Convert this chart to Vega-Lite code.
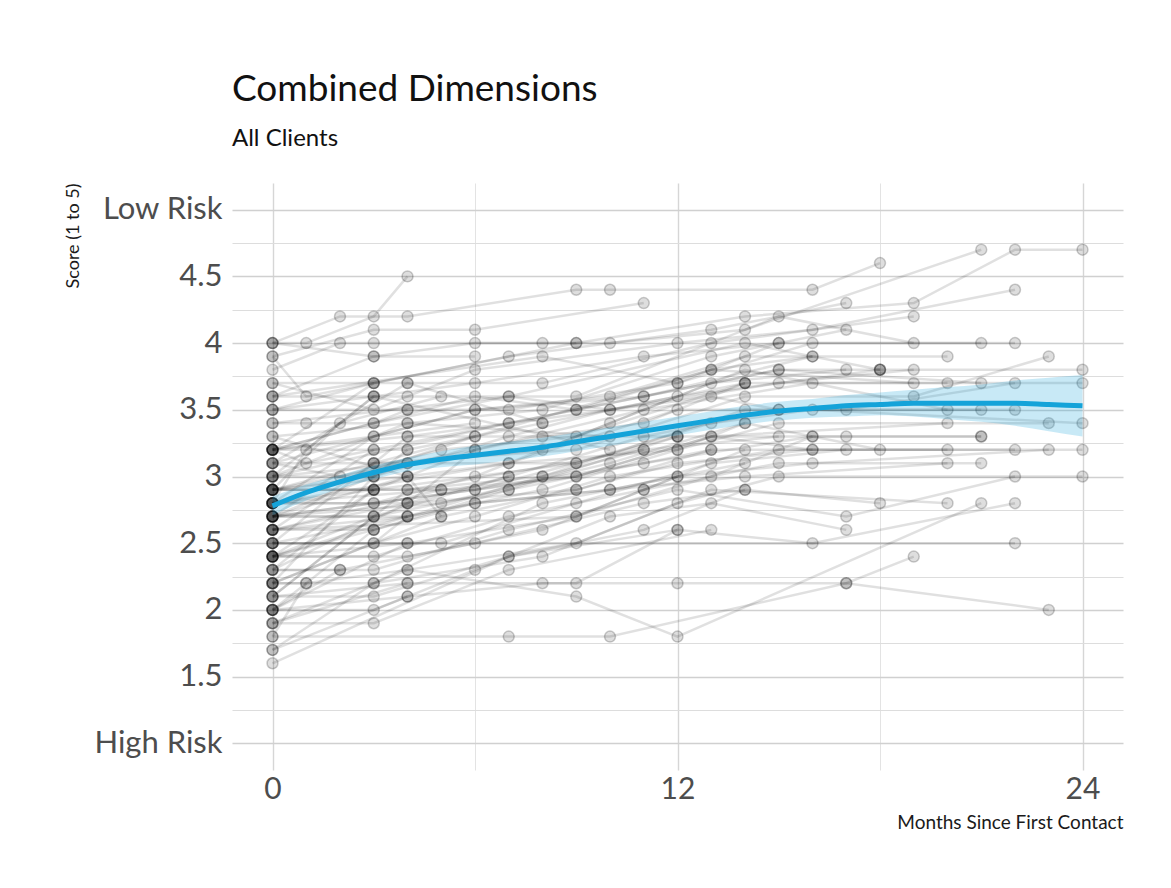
{
  "$schema": "https://vega.github.io/schema/vega-lite/v6.json",
  "width": 891,
  "height": 587,
  "autosize": {"type": "none"},
  "padding": {"left": 232, "top": 183, "right": 48, "bottom": 118},
  "background": "#ffffff",
  "config": {"view": {"stroke": null}, "font": "Lato"},
  "title": {
    "text": "Combined Dimensions",
    "subtitle": "All Clients",
    "anchor": "start",
    "frame": "group",
    "font": "Lato",
    "fontSize": 37,
    "fontWeight": "normal",
    "color": "#111111",
    "subtitleFont": "Lato",
    "subtitleFontSize": 24,
    "subtitleColor": "#111111",
    "subtitlePadding": 18,
    "offset": 31
  },
  "datasets": {
    "pts": [
      {"id":1,"m":0,"s":4.0},{"id":1,"m":1,"s":4.0},{"id":1,"m":3,"s":4.2},{"id":1,"m":4,"s":4.5},
      {"id":2,"m":0,"s":4.0},{"id":2,"m":2,"s":4.2},{"id":2,"m":4,"s":4.2},{"id":2,"m":9,"s":4.4},{"id":2,"m":10,"s":4.4},{"id":2,"m":16,"s":4.4},{"id":2,"m":18,"s":4.6},
      {"id":3,"m":0,"s":4.0},{"id":3,"m":3,"s":3.9},{"id":3,"m":6,"s":4.0},{"id":3,"m":9,"s":4.0},{"id":3,"m":14,"s":4.2},{"id":3,"m":19,"s":4.3},{"id":3,"m":22,"s":4.7},{"id":3,"m":24,"s":4.7},
      {"id":4,"m":0,"s":3.9},{"id":4,"m":3,"s":4.1},{"id":4,"m":6,"s":4.1},{"id":4,"m":11,"s":4.3},
      {"id":5,"m":0,"s":3.9},{"id":5,"m":1,"s":3.6},{"id":5,"m":3,"s":3.7},{"id":5,"m":7,"s":3.9},{"id":5,"m":13,"s":4.1},{"id":5,"m":17,"s":4.3},
      {"id":6,"m":0,"s":3.8},{"id":6,"m":2,"s":4.0},{"id":6,"m":3,"s":4.0},{"id":6,"m":8,"s":4.0},{"id":6,"m":10,"s":4.0},{"id":6,"m":14,"s":4.1},{"id":6,"m":21,"s":4.7},
      {"id":7,"m":0,"s":3.7},{"id":7,"m":3,"s":3.5},{"id":7,"m":6,"s":3.8},{"id":7,"m":12,"s":4.0},{"id":7,"m":16,"s":4.1},{"id":7,"m":22,"s":4.4},
      {"id":8,"m":0,"s":3.7},{"id":8,"m":4,"s":3.7},{"id":8,"m":8,"s":3.7},{"id":8,"m":13,"s":4.0},{"id":8,"m":19,"s":4.2},
      {"id":9,"m":0,"s":3.6},{"id":9,"m":4,"s":3.6},{"id":9,"m":9,"s":3.6},{"id":9,"m":15,"s":4.2},{"id":9,"m":19,"s":4.0},
      {"id":10,"m":0,"s":3.5},{"id":10,"m":3,"s":3.6},{"id":10,"m":6,"s":3.7},{"id":10,"m":11,"s":3.9},{"id":10,"m":15,"s":4.0},{"id":10,"m":21,"s":4.0},
      {"id":11,"m":0,"s":3.5},{"id":11,"m":4,"s":3.5},{"id":11,"m":7,"s":3.5},{"id":11,"m":12,"s":3.7},{"id":11,"m":16,"s":4.0},{"id":11,"m":22,"s":4.0},
      {"id":12,"m":0,"s":3.4},{"id":12,"m":1,"s":3.4},{"id":12,"m":3,"s":3.4},{"id":12,"m":7,"s":3.6},{"id":12,"m":14,"s":4.0},{"id":12,"m":18,"s":3.8},
      {"id":13,"m":0,"s":3.3},{"id":13,"m":4,"s":3.4},{"id":13,"m":8,"s":3.5},{"id":13,"m":13,"s":3.9},{"id":13,"m":17,"s":4.1},
      {"id":14,"m":0,"s":3.2},{"id":14,"m":3,"s":3.3},{"id":14,"m":6,"s":3.5},{"id":14,"m":10,"s":3.6},{"id":14,"m":14,"s":3.9},{"id":14,"m":20,"s":3.9},
      {"id":15,"m":0,"s":3.2},{"id":15,"m":4,"s":3.3},{"id":15,"m":7,"s":3.4},{"id":15,"m":11,"s":3.6},{"id":15,"m":16,"s":3.9},
      {"id":16,"m":0,"s":3.2},{"id":16,"m":1,"s":3.1},{"id":16,"m":3,"s":3.2},{"id":16,"m":9,"s":3.5},{"id":16,"m":15,"s":3.8},{"id":16,"m":21,"s":3.7},
      {"id":17,"m":0,"s":3.2},{"id":17,"m":4,"s":3.2},{"id":17,"m":8,"s":3.4},{"id":17,"m":12,"s":3.6},{"id":17,"m":18,"s":3.8},{"id":17,"m":24,"s":3.8},
      {"id":18,"m":0,"s":3.1},{"id":18,"m":3,"s":3.1},{"id":18,"m":6,"s":3.3},{"id":18,"m":13,"s":3.8},{"id":18,"m":19,"s":3.7},
      {"id":19,"m":0,"s":3.1},{"id":19,"m":2,"s":3.0},{"id":19,"m":5,"s":3.2},{"id":19,"m":9,"s":3.3},{"id":19,"m":14,"s":3.7},{"id":19,"m":20,"s":3.7},
      {"id":20,"m":0,"s":3.0},{"id":20,"m":3,"s":3.0},{"id":20,"m":7,"s":3.3},{"id":20,"m":10,"s":3.5},{"id":20,"m":15,"s":3.7},{"id":20,"m":19,"s":3.8},
      {"id":21,"m":0,"s":3.0},{"id":21,"m":4,"s":3.1},{"id":21,"m":8,"s":3.2},{"id":21,"m":13,"s":3.7},{"id":21,"m":17,"s":3.8},
      {"id":22,"m":0,"s":2.9},{"id":22,"m":3,"s":2.9},{"id":22,"m":6,"s":3.2},{"id":22,"m":11,"s":3.5},{"id":22,"m":16,"s":3.7},{"id":22,"m":24,"s":3.7},
      {"id":23,"m":0,"s":2.9},{"id":23,"m":4,"s":3.0},{"id":23,"m":7,"s":3.1},{"id":23,"m":12,"s":3.5},{"id":23,"m":17,"s":3.5},{"id":23,"m":22,"s":3.7},
      {"id":24,"m":0,"s":2.9},{"id":24,"m":3,"s":3.1},{"id":24,"m":9,"s":3.2},{"id":24,"m":14,"s":3.6},{"id":24,"m":19,"s":3.6},{"id":24,"m":23,"s":3.9},
      {"id":25,"m":0,"s":2.9},{"id":25,"m":4,"s":2.9},{"id":25,"m":8,"s":3.0},{"id":25,"m":14,"s":3.5},{"id":25,"m":21,"s":3.5},
      {"id":26,"m":0,"s":2.8},{"id":26,"m":3,"s":2.8},{"id":26,"m":6,"s":3.0},{"id":26,"m":10,"s":3.4},{"id":26,"m":14,"s":3.8},{"id":26,"m":20,"s":3.5},
      {"id":27,"m":0,"s":2.8},{"id":27,"m":4,"s":2.8},{"id":27,"m":7,"s":3.0},{"id":27,"m":11,"s":3.3},{"id":27,"m":15,"s":3.5},{"id":27,"m":22,"s":3.5},
      {"id":28,"m":0,"s":2.8},{"id":28,"m":3,"s":2.9},{"id":28,"m":9,"s":3.1},{"id":28,"m":13,"s":3.4},{"id":28,"m":16,"s":3.5},{"id":28,"m":24,"s":3.4},
      {"id":29,"m":0,"s":2.8},{"id":29,"m":5,"s":2.9},{"id":29,"m":9,"s":3.0},{"id":29,"m":13,"s":3.3},{"id":29,"m":20,"s":3.4},
      {"id":30,"m":0,"s":2.7},{"id":30,"m":3,"s":2.7},{"id":30,"m":7,"s":2.9},{"id":30,"m":12,"s":3.3},{"id":30,"m":17,"s":3.3},{"id":30,"m":21,"s":3.3},
      {"id":31,"m":0,"s":2.7},{"id":31,"m":4,"s":2.7},{"id":31,"m":8,"s":2.9},{"id":31,"m":12,"s":3.2},{"id":31,"m":15,"s":3.4},{"id":31,"m":23,"s":3.4},
      {"id":32,"m":0,"s":2.7},{"id":32,"m":3,"s":2.8},{"id":32,"m":6,"s":2.9},{"id":32,"m":11,"s":3.1},{"id":32,"m":16,"s":3.3},{"id":32,"m":21,"s":3.3},
      {"id":33,"m":0,"s":2.7},{"id":33,"m":5,"s":2.8},{"id":33,"m":10,"s":3.1},{"id":33,"m":14,"s":3.4},{"id":33,"m":18,"s":3.2},
      {"id":34,"m":0,"s":2.6},{"id":34,"m":3,"s":2.6},{"id":34,"m":7,"s":2.9},{"id":34,"m":13,"s":3.2},{"id":34,"m":20,"s":3.2},
      {"id":35,"m":0,"s":2.6},{"id":35,"m":4,"s":2.8},{"id":35,"m":9,"s":2.9},{"id":35,"m":12,"s":3.1},{"id":35,"m":16,"s":3.2},{"id":35,"m":22,"s":3.2},
      {"id":36,"m":0,"s":2.5},{"id":36,"m":3,"s":2.5},{"id":36,"m":6,"s":2.7},{"id":36,"m":10,"s":3.0},{"id":36,"m":15,"s":3.2},{"id":36,"m":24,"s":3.2},
      {"id":37,"m":0,"s":2.5},{"id":37,"m":5,"s":2.5},{"id":37,"m":9,"s":2.8},{"id":37,"m":13,"s":3.1},{"id":37,"m":17,"s":3.2},
      {"id":38,"m":0,"s":2.4},{"id":38,"m":3,"s":2.4},{"id":38,"m":7,"s":2.7},{"id":38,"m":11,"s":2.9},{"id":38,"m":15,"s":3.1},{"id":38,"m":21,"s":3.1},
      {"id":39,"m":0,"s":2.4},{"id":39,"m":4,"s":2.4},{"id":39,"m":8,"s":2.6},{"id":39,"m":12,"s":3.0},{"id":39,"m":16,"s":3.1},{"id":39,"m":23,"s":3.2},
      {"id":40,"m":0,"s":2.4},{"id":40,"m":3,"s":2.6},{"id":40,"m":6,"s":2.8},{"id":40,"m":10,"s":2.9},{"id":40,"m":14,"s":3.0},{"id":40,"m":20,"s":3.1},
      {"id":41,"m":0,"s":2.4},{"id":41,"m":4,"s":2.5},{"id":41,"m":9,"s":2.7},{"id":41,"m":13,"s":3.0},{"id":41,"m":16,"s":3.3},
      {"id":42,"m":0,"s":2.3},{"id":42,"m":3,"s":2.3},{"id":42,"m":7,"s":2.6},{"id":42,"m":12,"s":2.9},{"id":42,"m":17,"s":2.7},{"id":42,"m":22,"s":3.0},
      {"id":43,"m":0,"s":2.3},{"id":43,"m":2,"s":2.3},{"id":43,"m":6,"s":2.5},{"id":43,"m":11,"s":2.8},{"id":43,"m":14,"s":2.9},{"id":43,"m":18,"s":2.8},
      {"id":44,"m":0,"s":2.2},{"id":44,"m":3,"s":2.2},{"id":44,"m":8,"s":2.4},{"id":44,"m":12,"s":2.8},{"id":44,"m":15,"s":3.0},{"id":44,"m":24,"s":3.0},
      {"id":45,"m":0,"s":2.2},{"id":45,"m":1,"s":2.2},{"id":45,"m":4,"s":2.3},{"id":45,"m":9,"s":2.5},{"id":45,"m":13,"s":2.9},{"id":45,"m":20,"s":2.8},
      {"id":46,"m":0,"s":2.1},{"id":46,"m":3,"s":2.1},{"id":46,"m":7,"s":2.4},{"id":46,"m":11,"s":2.6},{"id":46,"m":14,"s":2.9},
      {"id":47,"m":0,"s":2.1},{"id":47,"m":4,"s":2.2},{"id":47,"m":9,"s":2.2},{"id":47,"m":12,"s":2.6},{"id":47,"m":16,"s":2.5},{"id":47,"m":22,"s":2.8},
      {"id":48,"m":0,"s":2.0},{"id":48,"m":3,"s":2.0},{"id":48,"m":6,"s":2.3},{"id":48,"m":10,"s":2.7},{"id":48,"m":13,"s":2.8},{"id":48,"m":17,"s":2.6},
      {"id":49,"m":0,"s":2.0},{"id":49,"m":4,"s":2.1},{"id":49,"m":8,"s":2.2},{"id":49,"m":12,"s":2.2},{"id":49,"m":17,"s":2.2},{"id":49,"m":19,"s":2.4},
      {"id":50,"m":0,"s":1.9},{"id":50,"m":3,"s":1.9},{"id":50,"m":7,"s":2.3},{"id":50,"m":13,"s":2.6},
      {"id":51,"m":0,"s":1.9},{"id":51,"m":4,"s":2.3},{"id":51,"m":9,"s":2.1},{"id":51,"m":12,"s":1.8},{"id":51,"m":21,"s":2.8},
      {"id":52,"m":0,"s":1.8},{"id":52,"m":7,"s":1.8},{"id":52,"m":10,"s":1.8},{"id":52,"m":17,"s":2.2},{"id":52,"m":23,"s":2.0},
      {"id":53,"m":0,"s":1.7},{"id":53,"m":3,"s":2.2},{"id":53,"m":8,"s":2.8},{"id":53,"m":12,"s":3.0},
      {"id":54,"m":0,"s":1.6},{"id":54,"m":7,"s":2.4},{"id":54,"m":12,"s":2.6},
      {"id":55,"m":0,"s":2.5},{"id":55,"m":22,"s":2.5},
      {"id":56,"m":0,"s":3.2},{"id":56,"m":3,"s":3.4},{"id":56,"m":4,"s":3.5},
      {"id":57,"m":0,"s":2.9},{"id":57,"m":3,"s":3.0},{"id":57,"m":4,"s":3.2},
      {"id":58,"m":0,"s":2.8},{"id":58,"m":3,"s":3.3},{"id":58,"m":6,"s":3.4},
      {"id":59,"m":0,"s":2.7},{"id":59,"m":4,"s":3.0},{"id":59,"m":5,"s":2.7},
      {"id":60,"m":0,"s":2.4},{"id":60,"m":3,"s":2.9},
      {"id":61,"m":0,"s":2.0},{"id":61,"m":4,"s":2.5},
      {"id":62,"m":0,"s":2.1},{"id":62,"m":3,"s":2.7},
      {"id":63,"m":0,"s":2.3},{"id":63,"m":4,"s":2.8},{"id":63,"m":6,"s":3.2},
      {"id":64,"m":0,"s":2.2},{"id":64,"m":3,"s":3.0},
      {"id":65,"m":0,"s":1.9},{"id":65,"m":4,"s":2.2},
      {"id":66,"m":0,"s":1.8},{"id":66,"m":1,"s":2.2},
      {"id":67,"m":0,"s":3.6},{"id":67,"m":3,"s":3.9},{"id":67,"m":6,"s":3.9},
      {"id":68,"m":0,"s":3.0},{"id":68,"m":4,"s":3.4},{"id":68,"m":10,"s":3.3},
      {"id":69,"m":0,"s":2.6},{"id":69,"m":3,"s":3.1},{"id":69,"m":9,"s":3.1},
      {"id":70,"m":0,"s":2.9},{"id":70,"m":2,"s":3.4},{"id":70,"m":5,"s":3.6},
      {"id":71,"m":0,"s":2.8},{"id":71,"m":1,"s":3.2},{"id":71,"m":3,"s":3.6},
      {"id":72,"m":0,"s":3.1},{"id":72,"m":4,"s":3.7},{"id":72,"m":8,"s":3.4},
      {"id":73,"m":0,"s":2.6},{"id":73,"m":5,"s":2.9},
      {"id":74,"m":0,"s":2.0},{"id":74,"m":2,"s":2.3},
      {"id":75,"m":0,"s":2.2},{"id":75,"m":3,"s":2.5},{"id":75,"m":4,"s":2.7},
      {"id":76,"m":0,"s":3.5},{"id":76,"m":3,"s":3.7},
      {"id":77,"m":0,"s":3.3},{"id":77,"m":4,"s":3.0},
      {"id":78,"m":0,"s":2.5},{"id":78,"m":4,"s":3.3},{"id":78,"m":12,"s":3.3},
      {"id":79,"m":0,"s":2.7},{"id":79,"m":3,"s":3.2},
      {"id":80,"m":0,"s":2.9},{"id":80,"m":6,"s":2.9},{"id":80,"m":12,"s":3.3},
      {"id":81,"m":0,"s":3.2},{"id":81,"m":3,"s":3.7},{"id":81,"m":9,"s":4.0},
      {"id":82,"m":0,"s":2.1},{"id":82,"m":4,"s":2.9},{"id":82,"m":11,"s":3.2},
      {"id":83,"m":0,"s":2.4},{"id":83,"m":3,"s":2.7},{"id":83,"m":7,"s":3.0},
      {"id":84,"m":0,"s":3.0},{"id":84,"m":3,"s":3.6},{"id":84,"m":10,"s":3.2},
      {"id":85,"m":0,"s":2.7},{"id":85,"m":4,"s":3.1},
      {"id":86,"m":0,"s":2.3},{"id":86,"m":3,"s":2.9},
      {"id":87,"m":0,"s":2.8},{"id":87,"m":6,"s":3.3},
      {"id":88,"m":0,"s":1.7},{"id":88,"m":4,"s":2.1},
      {"id":89,"m":0,"s":2.0},{"id":89,"m":3,"s":2.6},
      {"id":90,"m":0,"s":2.6},{"id":90,"m":4,"s":2.7},
      {"id":91,"m":0,"s":3.0},{"id":91,"m":7,"s":3.4},{"id":91,"m":13,"s":3.6},{"id":91,"m":15,"s":3.5},
      {"id":92,"m":0,"s":2.9},{"id":92,"m":8,"s":3.3},{"id":92,"m":11,"s":3.4},{"id":92,"m":14,"s":3.7},
      {"id":93,"m":0,"s":3.2},{"id":93,"m":6,"s":3.6},{"id":93,"m":9,"s":3.5},{"id":93,"m":13,"s":3.8},{"id":93,"m":16,"s":3.9},
      {"id":94,"m":0,"s":2.5},{"id":94,"m":6,"s":2.8},{"id":94,"m":10,"s":2.9},{"id":94,"m":14,"s":3.1},
      {"id":95,"m":0,"s":2.4},{"id":95,"m":8,"s":3.0},{"id":95,"m":11,"s":3.2},{"id":95,"m":15,"s":3.3},
      {"id":96,"m":0,"s":3.4},{"id":96,"m":7,"s":3.6},{"id":96,"m":10,"s":3.5},{"id":96,"m":14,"s":3.7},
      {"id":97,"m":0,"s":2.2},{"id":97,"m":5,"s":2.7},{"id":97,"m":9,"s":2.9},{"id":97,"m":13,"s":3.2},
      {"id":98,"m":0,"s":3.1},{"id":98,"m":6,"s":3.5},{"id":98,"m":11,"s":3.6},{"id":98,"m":15,"s":3.8},{"id":98,"m":18,"s":3.8},
      {"id":99,"m":0,"s":2.8},{"id":99,"m":7,"s":3.1},{"id":99,"m":12,"s":3.2},{"id":99,"m":14,"s":3.4},
      {"id":100,"m":0,"s":2.7},{"id":100,"m":9,"s":3.0},{"id":100,"m":13,"s":3.3},{"id":100,"m":16,"s":3.2},
      {"id":101,"m":0,"s":3.6},{"id":101,"m":8,"s":3.9},{"id":101,"m":12,"s":3.7},{"id":101,"m":15,"s":4.0},
      {"id":102,"m":0,"s":2.6},{"id":102,"m":9,"s":2.7},{"id":102,"m":11,"s":2.9},{"id":102,"m":14,"s":3.2}
    ],
    "fit": [
      {"m":0,"fit":2.78,"lo":2.71,"hi":2.85},
      {"m":1,"fit":2.88,"lo":2.82,"hi":2.94},
      {"m":2,"fit":2.96,"lo":2.91,"hi":3.01},
      {"m":3,"fit":3.03,"lo":2.98,"hi":3.08},
      {"m":4,"fit":3.09,"lo":3.04,"hi":3.14},
      {"m":5,"fit":3.13,"lo":3.07,"hi":3.19},
      {"m":6,"fit":3.16,"lo":3.09,"hi":3.23},
      {"m":7,"fit":3.19,"lo":3.12,"hi":3.26},
      {"m":8,"fit":3.22,"lo":3.15,"hi":3.29},
      {"m":9,"fit":3.26,"lo":3.19,"hi":3.33},
      {"m":10,"fit":3.30,"lo":3.23,"hi":3.37},
      {"m":11,"fit":3.34,"lo":3.27,"hi":3.41},
      {"m":12,"fit":3.38,"lo":3.31,"hi":3.45},
      {"m":13,"fit":3.42,"lo":3.35,"hi":3.49},
      {"m":14,"fit":3.46,"lo":3.39,"hi":3.53},
      {"m":15,"fit":3.49,"lo":3.42,"hi":3.56},
      {"m":16,"fit":3.51,"lo":3.44,"hi":3.58},
      {"m":17,"fit":3.53,"lo":3.45,"hi":3.61},
      {"m":18,"fit":3.54,"lo":3.46,"hi":3.63},
      {"m":19,"fit":3.55,"lo":3.45,"hi":3.65},
      {"m":20,"fit":3.55,"lo":3.43,"hi":3.67},
      {"m":21,"fit":3.55,"lo":3.41,"hi":3.69},
      {"m":22,"fit":3.55,"lo":3.38,"hi":3.72},
      {"m":23,"fit":3.54,"lo":3.34,"hi":3.74},
      {"m":24,"fit":3.53,"lo":3.30,"hi":3.76}
    ]
  },
  "encoding": {
    "x": {
      "field": "m",
      "type": "quantitative",
      "scale": {"domain": [-1.2, 25.2], "nice": false, "zero": false},
      "axis": {
        "values": [0, 6, 12, 18, 24],
        "labelExpr": "datum.value % 12 === 0 ? datum.label : ''",
        "title": "Months Since First Contact",
        "titleAnchor": "end",
        "titleFont": "Lato",
        "titleFontSize": 19,
        "titleFontWeight": "normal",
        "titleColor": "#1a1a1a",
        "titlePadding": 9,
        "labelFont": "Lato",
        "labelFontSize": 30,
        "labelColor": "#4d4d4d",
        "labelPadding": 4,
        "ticks": false,
        "domain": false,
        "grid": true,
        "gridColor": {"condition": {"test": "datum.value % 12 === 0", "value": "#d6d6d6"}, "value": "#e3e3e3"},
        "gridWidth": {"condition": {"test": "datum.value % 12 === 0", "value": 1.4}, "value": 1.0}
      }
    },
    "y": {
      "field": "s",
      "type": "quantitative",
      "scale": {"domain": [0.8, 5.2], "nice": false, "zero": false},
      "axis": {
        "values": [1, 1.25, 1.5, 1.75, 2, 2.25, 2.5, 2.75, 3, 3.25, 3.5, 3.75, 4, 4.25, 4.5, 4.75, 5],
        "labelExpr": "datum.value === 5 ? 'Low Risk' : datum.value === 1 ? 'High Risk' : ((datum.value * 2) % 1 === 0 ? '' + datum.value : '')",
        "title": "Score (1 to 5)",
        "titleAnchor": "end",
        "titleFont": "Lato",
        "titleFontSize": 18,
        "titleFontWeight": "normal",
        "titleColor": "#1a1a1a",
        "titlePadding": 11,
        "labelFont": "Lato",
        "labelFontSize": 31,
        "labelColor": "#4d4d4d",
        "labelPadding": 10,
        "ticks": false,
        "domain": false,
        "grid": true,
        "gridColor": {"condition": {"test": "(datum.value * 2) % 1 === 0", "value": "#d0d0d0"}, "value": "#dddddd"},
        "gridWidth": {"condition": {"test": "(datum.value * 2) % 1 === 0", "value": 1.5}, "value": 1.1}
      }
    }
  },
  "layer": [
    {
      "data": {"name": "pts"},
      "mark": {"type": "line", "color": "#000000", "opacity": 0.12, "strokeWidth": 2.5},
      "encoding": {"detail": {"field": "id", "type": "nominal"}, "order": {"field": "m", "type": "quantitative"}}
    },
    {
      "data": {"name": "pts"},
      "mark": {"type": "circle", "size": 120, "fill": "#000000", "fillOpacity": 0.13, "stroke": "#000000", "strokeOpacity": 0.2, "strokeWidth": 1.5}
    },
    {
      "data": {"name": "fit"},
      "mark": {"type": "area", "color": "#1ba3d8", "opacity": 0.24, "interpolate": "monotone"},
      "encoding": {"y": {"field": "lo", "type": "quantitative"}, "y2": {"field": "hi"}}
    },
    {
      "data": {"name": "fit"},
      "mark": {"type": "line", "color": "#14a3d9", "strokeWidth": 5, "interpolate": "monotone"},
      "encoding": {"y": {"field": "fit", "type": "quantitative"}}
    }
  ]
}
